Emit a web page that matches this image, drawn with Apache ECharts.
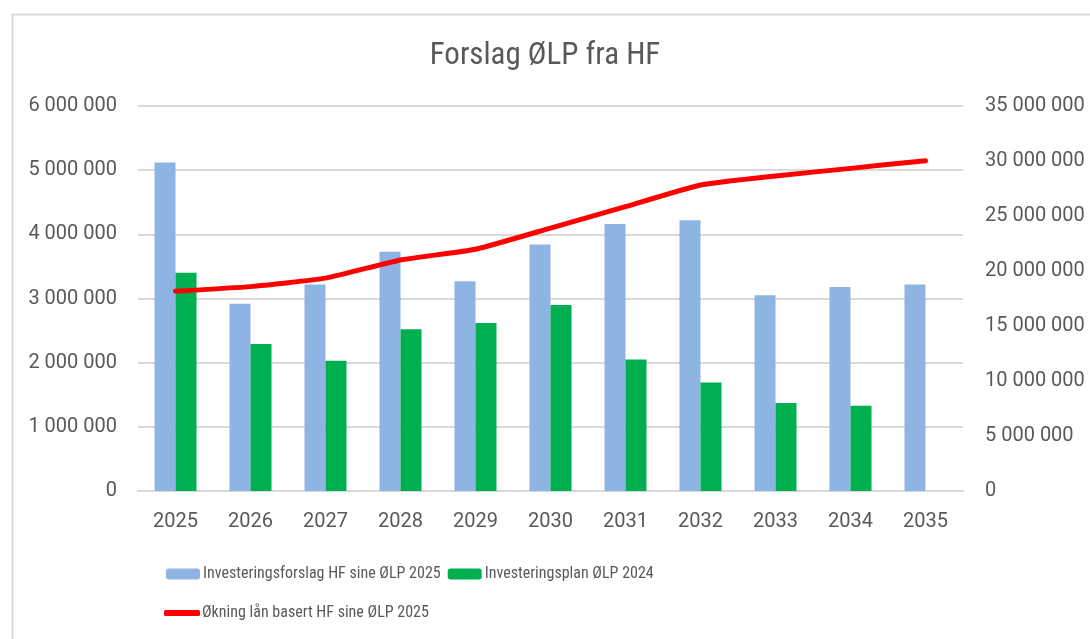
<!DOCTYPE html>
<html>
<head>
<meta charset="utf-8">
<script src="https://cdn.jsdelivr.net/npm/echarts@6/dist/echarts.min.js"></script>
<style>
  html, body { margin: 0; padding: 0; background: #fff; }
  #chart { width: 1090px; height: 639px; }
</style>
</head>
<body>
<div id="chart"></div>
<script>
var years = ['2025', '2026', '2027', '2028', '2029', '2030', '2031', '2032', '2033', '2034', '2035']
var forslag2025 = [5120000, 2920000, 3220000, 3730000, 3270000, 3840000, 4160000, 4220000, 3050000, 3180000, 3220000]
var plan2024 = [3400000, 2290000, 2030000, 2520000, 2620000, 2900000, 2050000, 1690000, 1370000, 1330000, null]
var laan2025 = [18170000, 18580000, 19350000, 21000000, 21980000, 23900000, 25850000, 27820000, 28640000, 29330000, 30030000]

var font = "'Liberation Sans Narrow', 'Roboto Condensed', Roboto, sans-serif"
var axisFont = 'Roboto, sans-serif'
var textColor = '#595959'
var gridColor = '#d9d9d9'

function fmt(v) {
  return String(v).replace(/\B(?=(\d{3})+(?!\d))/g, ' ')
}

var chart = echarts.init(document.getElementById('chart'))
var option = {
  backgroundColor: '#fff',
  animation: false,
  title: {
    text: 'Forslag ØLP fra HF',
    left: 'center',
    top: 36,
    textStyle: { fontFamily: font, fontSize: 31, fontWeight: 'normal', color: textColor },
  },
  graphic: [
    {
      type: 'rect',
      left: 10,
      top: 12,
      shape: { width: 1100, height: 700 },
      style: { fill: null, stroke: gridColor, lineWidth: 2 },
      silent: true,
    },
  ],
  legend: [
    {
      left: 161,
      top: 561,
      itemWidth: 34,
      itemHeight: 11,
      itemGap: 7,
      data: ['Investeringsforslag HF sine ØLP 2025', 'Investeringsplan ØLP 2024'],
      textStyle: { fontFamily: font, fontSize: 16, color: textColor, padding: [0, 0, 0, -2] },
    },
    {
      left: 159,
      top: 600,
      itemWidth: 36,
      itemHeight: 6,
      data: [{ name: 'Økning lån basert HF sine ØLP 2025', icon: 'roundRect' }],
      textStyle: { fontFamily: font, fontSize: 16, color: textColor, padding: [0, 0, 0, -3] },
    },
  ],
  grid: { left: 138, right: 127, top: 106, bottom: 148 },
  xAxis: {
    type: 'category',
    data: years,
    axisLine: { show: true, lineStyle: { color: gridColor, width: 2 } },
    axisTick: { show: false },
    axisLabel: { margin: 21, fontFamily: axisFont, fontSize: 20, color: textColor },
  },
  yAxis: [
    {
      type: 'value',
      min: 0,
      max: 6000000,
      interval: 1000000,
      axisLine: { show: false },
      axisTick: { show: false },
      splitLine: { lineStyle: { color: gridColor, width: 2 } },
      axisLabel: { margin: 21, fontFamily: axisFont, fontSize: 20, color: textColor, formatter: fmt },
    },
    {
      type: 'value',
      min: 0,
      max: 35000000,
      interval: 5000000,
      axisLine: { show: false },
      axisTick: { show: false },
      splitLine: { show: false },
      axisLabel: { margin: 22, fontFamily: axisFont, fontSize: 20, color: textColor, formatter: fmt },
    },
  ],
  series: [
    {
      name: 'Investeringsforslag HF sine ØLP 2025',
      type: 'bar',
      data: forslag2025,
      barWidth: 21,
      barGap: '0%',
      itemStyle: { color: '#8EB4E3' },
    },
    {
      name: 'Investeringsplan ØLP 2024',
      type: 'bar',
      data: plan2024,
      barWidth: 21,
      barGap: '0%',
      itemStyle: { color: '#00B050' },
    },
    {
      name: 'Økning lån basert HF sine ØLP 2025',
      type: 'line',
      yAxisIndex: 1,
      data: laan2025,
      symbol: 'none',
      smooth: 0.15,
      itemStyle: { color: '#FF0000' },
      lineStyle: { color: '#FF0000', width: 5, cap: 'round', join: 'round' },
      z: 5,
    },
  ],
}

chart.setOption(option)
</script>
</body>
</html>
